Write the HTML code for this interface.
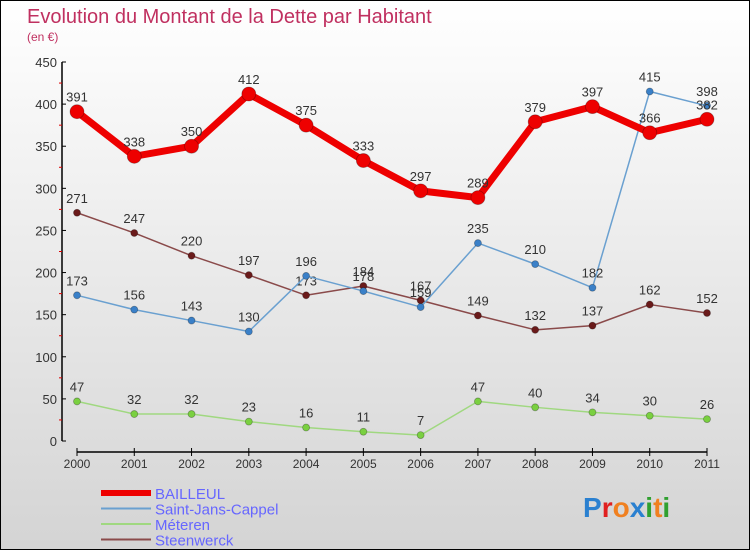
<!DOCTYPE html>
<html><head><meta charset="utf-8"><style>
body{margin:0}
#c{width:750px;height:550px;position:relative;box-sizing:border-box;border:1px solid #000;background:linear-gradient(#ffffff,#d4d4d4);font-family:"Liberation Sans",sans-serif;overflow:hidden}
svg{position:absolute;left:0;top:0}
</style></head><body>
<div id="c">
<svg id="s" width="750" height="550">
<text x="26" y="22" font-size="20" fill="#c03060">Evolution du Montant de la Dette par Habitant</text>
<text x="26" y="40" font-size="12" fill="#c03060">(en €)</text>
</svg>
</div>
<script>
const years=['2000','2001','2002','2003','2004','2005','2006','2007','2008','2009','2010','2011'];
const yTicks=[0,50,100,150,200,250,300,350,400,450];
const bailleul=[391,338,350,412,375,333,297,289,379,397,366,382];
const saintJans=[173,156,143,130,196,178,159,235,210,182,415,398];
const meteren=[47,32,32,23,16,11,7,47,40,34,30,26];
const steenwerck=[271,247,220,197,173,184,167,149,132,137,162,152];
const seriesNames=['Steenwerck','Saint-Jans-Cappel','Méteren','BAILLEUL'];
const NS='http://www.w3.org/2000/svg';
const s=document.getElementById('s');
const X=i=>76+i*(630/11);
const Y=v=>440-v*(379/450);
function mk(t,a,p){const e=document.createElementNS(NS,t);for(const k in a)e.setAttribute(k,a[k]);(p||s).appendChild(e);return e;}
// y axis
let ya=mk('line',{x1:61,y1:61,x2:61,y2:440,stroke:'#000','stroke-width':1.5});


yTicks.forEach(v=>{
  mk('line',{x1:61,y1:Y(v),x2:65,y2:Y(v),stroke:'#000'});
  if(v<450)mk('line',{x1:58,y1:Y(v+25),x2:61,y2:Y(v+25),stroke:'#d00'});
  const t=mk('text',{x:56,y:Y(v)+5,'text-anchor':'end','font-size':13,fill:'#333'});t.textContent=v;
  
  
});
let xa=mk('line',{x1:76,y1:451,x2:706,y2:451,stroke:'#000','stroke-width':1.5});


years.forEach((y,i)=>{
  mk('line',{x1:X(i),y1:447,x2:X(i),y2:455,stroke:'#000'});
  const t=mk('text',{x:X(i),y:467,'text-anchor':'middle','font-size':12,fill:'#333'});t.textContent=y;
  
  
});
function series(data,color,dot,w,r,name){
  const g=mk('g',{});
  
  
  mk('polyline',{points:data.map((v,i)=>X(i)+','+Y(v)).join(' '),fill:'none',stroke:color,'stroke-width':w,'stroke-linejoin':'round'},g);
  data.forEach((v,i)=>{
    const c=mk('circle',{cx:X(i),cy:Y(v),r:r,fill:dot,stroke:'rgba(0,0,0,0.3)','stroke-width':0.8},g);
    
    
    const t=mk('text',{x:X(i),y:Y(v)-10,'text-anchor':'middle','font-size':13,fill:'#333'},g);t.textContent=v;
    
    
  });
}
series(steenwerck,'#8a4a4a','#6a1a1a',1.5,3.5,'series-steenwerck');
series(saintJans,'#6aa0d0','#3a80c8',1.5,3.5,'series-saint-jans-cappel');
series(meteren,'#a0d880','#7ad040',1.5,3.5,'series-meteren');
series(bailleul,'#ee0000','#ee0000',7,7,'series-bailleul');
// legend
const leg=[['BAILLEUL','#ee0000',6],['Saint-Jans-Cappel','#6aa0d0',2],['Méteren','#a0d880',2],['Steenwerck','#8a4a4a',2]];
leg.forEach((l,i)=>{
  const y=492+i*15.5;
  const g=mk('g',{});
  
  
  mk('line',{x1:100,y1:y,x2:150,y2:y,stroke:l[1],'stroke-width':l[2]},g);
  const t=mk('text',{x:154,y:y+6,'font-size':15,fill:'#6666ff'},g);t.textContent=l[0];
});
// logo
const lg=mk('text',{x:582,y:516,'font-size':28,'font-weight':'bold'});


[['P','#2a80d0'],['r','#e02020'],['o','#f08020'],['x','#2a80d0'],['i','#30a030'],['t','#f08020'],['i','#30a030']].forEach(p=>{const ts=mk('tspan',{fill:p[1]},lg);ts.textContent=p[0];});
</script>
</body></html>
